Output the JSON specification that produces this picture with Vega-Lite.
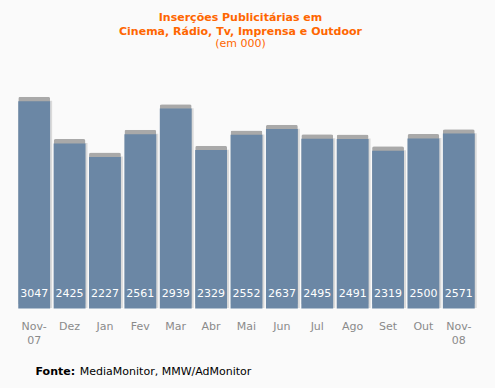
{
  "$schema": "https://vega.github.io/schema/vega-lite/v6.json",
  "width": 460,
  "height": 238,
  "autosize": {"type": "none"},
  "padding": {"left": 16.5, "top": 66, "right": 18.5, "bottom": 84},
  "background": "#fafafa",
  "config": {"view": {"stroke": null}, "font": "DejaVu Sans"},
  "title": {
    "text": ["Inserções Publicitárias em", "Cinema, Rádio, Tv, Imprensa e Outdoor"],
    "subtitle": "(em 000)",
    "color": "#ff6600",
    "subtitleColor": "#ff6600",
    "fontSize": 11,
    "subtitleFontSize": 11,
    "fontWeight": "bold",
    "lineHeight": 14,
    "subtitleLineHeight": 13,
    "subtitlePadding": 1,
    "anchor": "middle",
    "dx": -6,
    "offset": 17,
    "font": "DejaVu Sans",
    "subtitleFont": "DejaVu Sans"
  },
  "data": {
    "values": [
      {"mes": "Nov-07", "valor": 3047},
      {"mes": "Dez", "valor": 2425},
      {"mes": "Jan", "valor": 2227},
      {"mes": "Fev", "valor": 2561},
      {"mes": "Mar", "valor": 2939},
      {"mes": "Abr", "valor": 2329},
      {"mes": "Mai", "valor": 2552},
      {"mes": "Jun", "valor": 2637},
      {"mes": "Jul", "valor": 2495},
      {"mes": "Ago", "valor": 2491},
      {"mes": "Set", "valor": 2319},
      {"mes": "Out", "valor": 2500},
      {"mes": "Nov-08", "valor": 2571}
    ]
  },
  "encoding": {
    "x": {
      "field": "mes",
      "type": "nominal",
      "sort": null,
      "scale": {"paddingInner": 0.1, "paddingOuter": 0.05},
      "axis": {
        "title": "MediaMonitor, MMW/AdMonitor",
        "titleX": 62.8,
        "titleY": 70,
        "titleAlign": "left",
        "titleBaseline": "alphabetic",
        "titleFontWeight": "normal",
        "titleFontSize": 11,
        "titleColor": "#000000",
        "titleFont": "DejaVu Sans",
        "labelAngle": 0,
        "labelBaseline": "top",
        "labelPadding": 16,
        "labelFontSize": 11,
        "labelColor": "#8a8a8a",
        "labelLineHeight": 14,
        "labelExpr": "datum.label == 'Nov-07' ? ['Nov-', '07'] : datum.label == 'Nov-08' ? ['Nov-', '08'] : datum.label",
        "ticks": false,
        "tickSize": 0,
        "domain": false
      }
    }
  },
  "layer": [
    {
      "mark": {"type": "bar", "color": "#dadada", "xOffset": 2, "yOffset": 4},
      "encoding": {
        "y": {
          "field": "valor",
          "type": "quantitative",
          "scale": {"domain": [0, 3500]},
          "axis": {
            "title": "Fonte:",
            "titleAngle": 0,
            "titleX": 18.5,
            "titleY": 308,
            "titleAlign": "left",
            "titleBaseline": "alphabetic",
            "titleFontSize": 11,
            "titleFontWeight": "bold",
            "titleColor": "#000000",
            "titleFont": "DejaVu Sans",
            "labels": false,
            "ticks": false,
            "domain": false,
            "grid": false
          }
        }
      }
    },
    {
      "mark": {"type": "bar", "color": "#a9a9a9", "cornerRadiusTopLeft": 2, "cornerRadiusTopRight": 2},
      "encoding": {"y": {"field": "valor", "type": "quantitative"}}
    },
    {
      "mark": {"type": "bar", "color": "#6b87a5", "yOffset": 4.4},
      "encoding": {"y": {"field": "valor", "type": "quantitative"}}
    },
    {
      "mark": {"type": "text", "color": "#ffffff", "fontSize": 11, "baseline": "alphabetic", "dy": -7},
      "encoding": {
        "y": {"datum": 0, "type": "quantitative"},
        "text": {"field": "valor", "type": "quantitative", "format": "d"}
      }
    }
  ]
}
